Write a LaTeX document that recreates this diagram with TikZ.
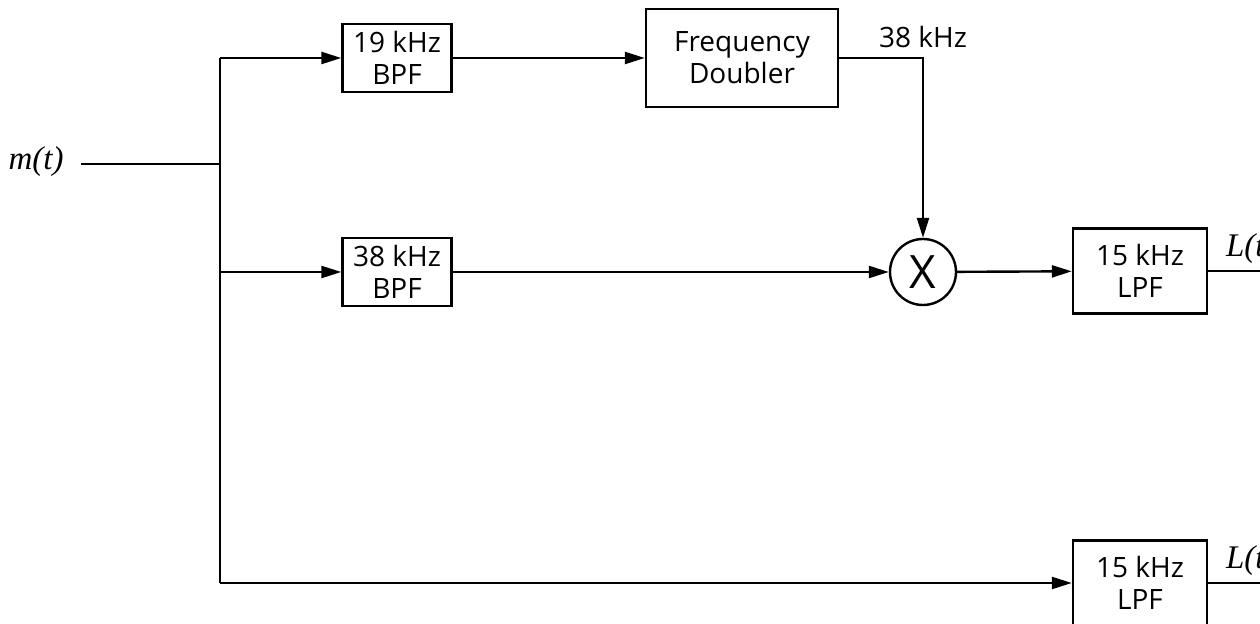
\documentclass[tikz,border=0pt]{standalone}
\usepackage{fontspec}
\setmainfont{Open Sans}
\newfontfamily\sigfont{Liberation Serif}
\usetikzlibrary{arrows.meta,positioning,calc}

\begin{document}
\begin{tikzpicture}[x=0.5pt, y=-0.5pt, line width=1.2pt,
  every node/.style={font=\fontsize{14}{16}\selectfont},
  blk/.style={rectangle, draw, minimum width=54.5pt, minimum height=34pt, align=center, inner sep=0pt},
  sig/.style={font=\sigfont\itshape\fontsize{16.5}{18}\selectfont},
  arr/.style={-{Triangle[length=10pt, width=6pt]}}]
\clip (0,0) rectangle (1260,624);
% filter and mixer blocks
\node[blk] (bpf19) at (397,58) {19 kHz\\BPF};
\node[blk, minimum width=96pt, minimum height=49pt] (dbl) at (742,58) {Frequency\\Doubler};
\node[blk] (bpf38) at (397,272) {38 kHz\\BPF};
\node[circle, draw, minimum size=33pt, inner sep=0pt, font=\fontsize{23}{23}\selectfont] (mix) at (923,272) {X};
\node[blk, minimum width=67pt, minimum height=42.5pt] (lpf1) at (1140,271) {15 kHz\\LPF};
\node[blk, minimum width=67pt, minimum height=42.5pt] (lpf2) at (1140,583) {15 kHz\\LPF};
% input and splitting
\node[sig] (mt) at (36,162) {m(t)};
\coordinate (in) at (81,164);
\coordinate (top) at (220,58);
\coordinate (bot) at (220,583);
\coordinate (out1) at (1280,271);
\coordinate (out2) at (1280,583);
\draw (in) -- (in -| top);
\draw (top) -- (bot);
\draw[arr] (top) -- (bpf19);
\draw[arr] (bpf38 -| top) -- (bpf38);
\draw[arr] (bot) -- (lpf2);
\draw[arr] (bpf19) -- (dbl);
\draw[arr] (dbl.east) -| node[above=1pt] {38 kHz} (mix);
\draw[arr] (bpf38) -- (mix);
\draw[arr] (mix) -- (lpf1);
\draw (lpf1) -- node[sig, above right=0pt and 5pt, pos=0] {L(t)} (out1);
\draw (lpf2) -- node[sig, above right=0pt and 5pt, pos=0] {L(t)} (out2);
\end{tikzpicture}
\end{document}
